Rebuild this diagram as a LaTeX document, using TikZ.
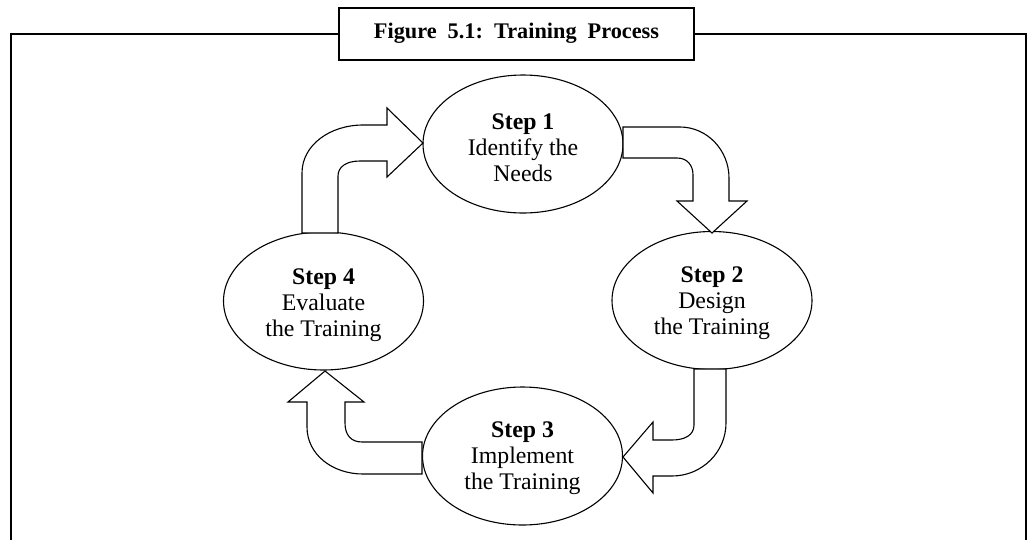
\documentclass[tikz,border=0pt]{standalone}
\usepackage{fontspec}
\setmainfont{Liberation Serif}
\usetikzlibrary{shapes.geometric}
\tikzset{
  frameline/.style={draw=black,line width=2.6pt},
  titlebox/.style={draw=black,line width=2.6pt,fill=white},
  stepell/.style={ellipse,draw=black,line width=1.1pt,fill=white,minimum width=200pt,minimum height=138pt,inner sep=0pt},
  steptext/.style={align=center,inner sep=0pt,text=black,font=\fontsize{23.8}{26}\selectfont},
  blockarrow/.style={draw=black,fill=white,line width=1.1pt,line join=miter},
}
\begin{document}
\begin{tikzpicture}[x=1pt,y=-1pt]
\useasboundingbox (0,0) rectangle (1030,539);
% frame
\draw[frameline] (11,545) -- (11,34) -- (1026,34) -- (1026,545);
\draw[titlebox] (339,8) rectangle (694,60);
\node[inner sep=0pt,font=\fontsize{22.3}{26}\selectfont\bfseries] (title) at (516.5,33)
  {Figure\hspace{11pt}5.1:\hspace{11pt}Training\hspace{11pt}Process};
% ellipses
\node[stepell] (s1) at (523,144) {};
\node[stepell] (s2) at (712,300.5) {};
\node[stepell] (s3) at (522.5,456) {};
\node[stepell] (s4) at (323.5,301) {};
\node[steptext,yshift=-4pt] (t1) at (s1.center) {\textbf{Step 1}\\Identify the\\Needs};
\node[steptext,yshift=-3pt] (t2) at (s2.center) {\textbf{Step 2}\\Design\\the Training};
\node[steptext,yshift=-2pt] (t3) at (s3.center) {\textbf{Step 3}\\Implement\\the Training};
\node[steptext,yshift=-4pt] (t4) at (s4.center) {\textbf{Step 4}\\Evaluate\\the Training};
% block arrows
% Step 1 -> Step 2
\draw[blockarrow] (623,127) -- (680,127) .. controls (707,127) and (729,150) .. (729,178)
  -- (729,201) -- (747,201) -- (712,233) -- (677,201) -- (693,201) -- (693,175)
  .. controls (693,165) and (687,158) .. (677,158) -- (623,158) -- cycle;
% Step 2 -> Step 3
\draw[blockarrow] (694,369) -- (694,425) .. controls (694,435) and (685,440) .. (672,440)
  -- (653,440) -- (653,422) -- (623,457) -- (653,493) -- (653,476) -- (672,476)
  .. controls (702,476) and (726,452) .. (726,423) -- (726,369) -- cycle;
% Step 3 -> Step 4
\draw[blockarrow] (422,442) -- (362,442) .. controls (351,442) and (345,435) .. (345,423)
  -- (345,402) -- (364,402) -- (325,371) -- (288,402) -- (307,402) -- (307,427)
  .. controls (307,455) and (333,474) .. (363,474) -- (422,474) -- cycle;
% Step 4 -> Step 1
\draw[blockarrow] (302,233) -- (302,173) .. controls (302,145) and (330,125) .. (363,125)
  -- (387,125) -- (387,108) -- (423,143) -- (387,177) -- (387,161) -- (360,161)
  .. controls (346,161) and (338,167) .. (338,176) -- (338,233) -- cycle;
\end{tikzpicture}
\end{document}
